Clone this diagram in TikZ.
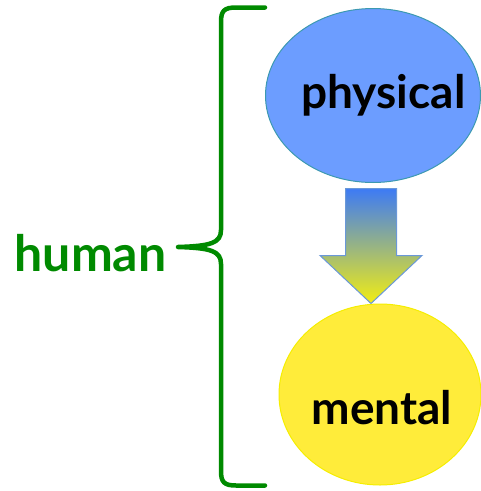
\documentclass[tikz,border=0pt]{standalone}
\usepackage{fontspec}
\setmainfont{Lato}
\usetikzlibrary{shapes.geometric,calc}
\definecolor{bodyBlue}{HTML}{6C9DFF}
\definecolor{bodyEdge}{HTML}{3C99B0}
\definecolor{mindYellow}{HTML}{FFEC3A}
\definecolor{mindEdge}{HTML}{F5EE00}
\definecolor{braceGreen}{HTML}{008A00}
\definecolor{arrowTop}{HTML}{3D7AF5}
\definecolor{arrowBottom}{HTML}{F2EE12}
\definecolor{arrowEdge}{HTML}{6A98D8}

\tikzset{
  blob/.style={ellipse,inner sep=0pt},
  word/.style={font=\fontsize{46}{50}\selectfont\bfseries,inner sep=0pt,anchor=base}
}

\begin{document}
\begin{tikzpicture}[x=1pt,y=-1pt]
  \useasboundingbox (0,0) rectangle (481,491);
  \node[blob,fill=bodyBlue,draw=bodyEdge,line width=1pt,
    minimum width=215pt,minimum height=174pt] (physical) at (373,95.5) {};
  \node[blob,fill=mindYellow,draw=mindEdge,line width=1pt,
    minimum width=202pt,minimum height=181pt] (mental) at (380,394.5) {};
  \node[word] (physlabel) at (383.5,108.3) {physical};
  \node[word] (mentlabel) at (382,424) {mental};
  \node[word,text=braceGreen,font=\fontsize{50}{54}\selectfont\bfseries,anchor=base east]
    (human) at (166.7,271.7) {human};
  % the fat arrow between the two
  \coordinate (top) at ($(physical.south)+(-2,5.5)$);
  \coordinate (tip) at ($(mental.north)+(-9,0)$);
  \shade[top color=arrowTop,bottom color=arrowBottom,draw=arrowEdge,line width=1pt,line join=miter]
    ($(top)+(-25.5,0)$) -- ($(top)+(25.5,0)$) -- ($(top)+(25.5,67)$) -- ($(top)+(51,67)$)
    -- (tip) -- ($(top)+(-51,67)$) -- ($(top)+(-25.5,67)$) -- cycle;
  % curly brace
  \draw[braceGreen,line width=4.5pt,line cap=round,line join=round]
    (265,7.5) -- (236,7.5) .. controls (224,7.5) and (221,11) .. (221,22)
    -- (221,230) .. controls (221,243) and (211,246) .. (178,247)
    .. controls (211,248) and (221,251) .. (221,264)
    -- (221,471) .. controls (221,482) and (224,485.5) .. (236,485.5) -- (265,485.5);
\end{tikzpicture}
\end{document}
